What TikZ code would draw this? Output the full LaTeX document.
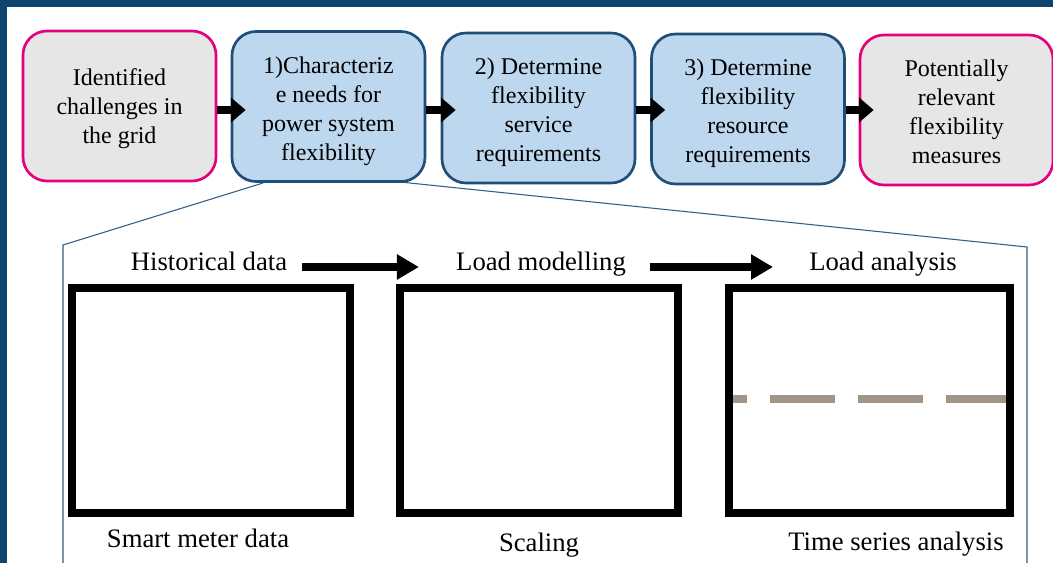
\documentclass[tikz,border=0pt]{standalone}
\usepackage{fontspec}
\setmainfont{Liberation Serif}
\usetikzlibrary{arrows.meta}
\definecolor{frameblue}{HTML}{0F4470}
\definecolor{pinkb}{HTML}{E6007E}
\definecolor{grayfill}{HTML}{E7E6E6}
\definecolor{bluefill}{HTML}{BDD7EE}
\definecolor{blueb}{HTML}{1F4E79}
\definecolor{calloutc}{HTML}{2F5F8A}
\definecolor{dashgray}{HTML}{A39689}
\tikzset{
  stagebox/.style={rounded corners=18pt, line width=2pt, minimum width=144.75pt, minimum height=112.5pt, inner sep=0pt},
  boxtext/.style={inner sep=0pt, align=center, font=\fontsize{18}{21.75}\selectfont},
  pinkbox/.style={stagebox, draw=pinkb, fill=grayfill},
  bluebox/.style={stagebox, draw=blueb, fill=bluefill},
  toparrow/.style={line width=6pt, -{Triangle[length=11pt,width=18pt]}},
  bigarrow/.style={line width=6pt, -{Triangle[length=16.5pt,width=18pt]}},
  panel/.style={draw=black, line width=6pt, inner sep=0pt, outer sep=0pt, minimum height=168.75pt},
  lbl/.style={font=\fontsize{20}{24}\selectfont, inner sep=0pt, anchor=base},
  callout/.style={draw=calloutc, line width=0.8pt}
}
\begin{document}
\begin{tikzpicture}[x=0.75pt,y=-0.75pt]
\useasboundingbox (0,0) rectangle (1053,563);
\fill[white] (0,0) rectangle (1053,563);
\fill[frameblue] (0,0) rectangle (1053,7);
\fill[frameblue] (0,0) rectangle (7,563);
% callout lines
\coordinate (cl0) at (263,183);
\coordinate (cl1) at (63,245);
\coordinate (cl2) at (63,563);
\coordinate (cr0) at (400,182);
\coordinate (cr1) at (1027,247);
\coordinate (cr2) at (1027,563);
\draw[callout] (cl0) -- (cl1) -- (cl2);
\draw[callout] (cr0) -- (cr1) -- (cr2);
% top boxes
\node[pinkbox] (b0) at (119.5,106) {};
\node[bluebox] (b1) at (328.5,106.5) {};
\node[bluebox] (b2) at (538.5,108) {};
\node[bluebox] (b3) at (748,109) {};
\node[pinkbox] (b4) at (956.5,110) {};
\node[boxtext] (t0) at ([yshift=-2.25pt]b0.center) {Identified\\challenges in\\the grid};
\node[boxtext] (t1) at ([yshift=-3.75pt]b1.center) {1)Characteriz\\e needs for\\power system\\flexibility};
\node[boxtext] (t2) at ([yshift=-3pt]b2.center) {2) Determine\\flexibility\\service\\requirements};
\node[boxtext] (t3) at ([yshift=-3pt]b3.center) {3) Determine\\flexibility\\resource\\requirements};
\node[boxtext] (t4) at ([yshift=-1.5pt]b4.center) {Potentially\\relevant\\flexibility\\measures};
\draw[toparrow] (b0.east |- 0,110) -- ([xshift=11.25pt]b1.west |- 0,110);
\draw[toparrow] (b1.east |- 0,110) -- ([xshift=11.25pt]b2.west |- 0,110);
\draw[toparrow] (b2.east |- 0,110) -- ([xshift=11.25pt]b3.west |- 0,110);
\draw[toparrow] (b3.east |- 0,110) -- ([xshift=11.25pt]b4.west |- 0,110);
% lower labels
\node[lbl] (h) at (209,270) {Historical data};
\node[lbl] (lm) at (541,270) {Load modelling};
\node[lbl] (la) at (883,270) {Load analysis};
\draw[bigarrow] ([xshift=11.25pt]h.east |- 0,267) -- ([xshift=-27.75pt]lm.west |- 0,267);
\draw[bigarrow] ([xshift=18pt]lm.east |- 0,267) -- ([xshift=-27pt]la.west |- 0,267);
% panels
\node[panel, minimum width=208.5pt] (p1) at (211,400.5) {};
\node[panel, minimum width=208.5pt] (p2) at (539,400.5) {};
\node[panel, minimum width=210.75pt] (p3) at (869.5,400.5) {};
\coordinate (d0) at (733,399);
\coordinate (d1) at (1006,399);
\draw[dashgray, line width=6pt, dash pattern=on 48.75pt off 17.25pt, dash phase=38.25pt] (d0) -- (d1);
\node[lbl] (s1) at (198,547) {Smart meter data};
\node[lbl] (s2) at (539,551) {Scaling};
\node[lbl] (s3) at (896,550) {Time series analysis};
\end{tikzpicture}
\end{document}
